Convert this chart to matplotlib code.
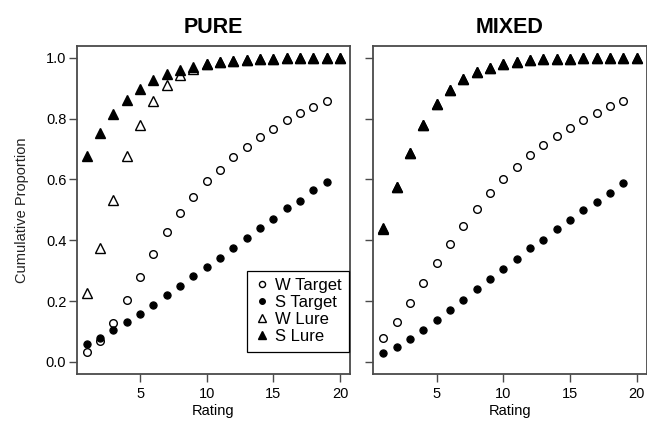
import matplotlib.pyplot as plt
import numpy as np

plt.rcParams['font.family'] = ['Liberation Sans', 'DejaVu Sans']

# ratings: targets go 1-19, lures 1-20
rating_t = np.arange(1, 20)
rating_l = np.arange(1, 21)

# PURE condition
pure_w_target = [0.032, 0.069, 0.129, 0.202, 0.279, 0.356, 0.427, 0.490, 0.542, 0.594,
                 0.632, 0.674, 0.707, 0.740, 0.767, 0.795, 0.819, 0.839, 0.857]
pure_s_target = [0.059, 0.080, 0.105, 0.131, 0.159, 0.188, 0.220, 0.248, 0.281, 0.311,
                 0.343, 0.376, 0.406, 0.441, 0.469, 0.505, 0.528, 0.564, 0.590]
pure_w_lure = [0.226, 0.376, 0.533, 0.676, 0.780, 0.859, 0.910, 0.945, 0.964, 0.980,
               0.988, 0.991, 0.994, 0.996, 0.997, 0.998, 0.999, 0.999, 1.000, 1.000]
pure_s_lure = [0.676, 0.753, 0.816, 0.863, 0.899, 0.926, 0.948, 0.961, 0.970, 0.981,
               0.988, 0.991, 0.994, 0.996, 0.997, 0.998, 0.999, 0.999, 1.000, 1.000]

# MIXED condition
mixed_w_target = [0.080, 0.131, 0.192, 0.258, 0.324, 0.388, 0.446, 0.504, 0.556, 0.602,
                  0.641, 0.680, 0.712, 0.744, 0.769, 0.797, 0.820, 0.840, 0.859]
mixed_s_target = [0.029, 0.050, 0.076, 0.105, 0.138, 0.171, 0.205, 0.238, 0.272, 0.306,
                  0.339, 0.373, 0.402, 0.437, 0.465, 0.500, 0.526, 0.557, 0.588]
mixed_w_lure = [0.436, 0.574, 0.687, 0.778, 0.849, 0.895, 0.930, 0.953, 0.968, 0.981,
                0.988, 0.993, 0.995, 0.996, 0.997, 0.998, 0.999, 0.999, 1.000, 1.000]
mixed_s_lure = [0.440, 0.574, 0.687, 0.778, 0.849, 0.895, 0.930, 0.953, 0.968, 0.981,
                0.988, 0.993, 0.995, 0.996, 0.997, 0.998, 0.999, 0.999, 1.000, 1.000]

panels = [
    ("PURE", pure_w_target, pure_s_target, pure_w_lure, pure_s_lure),
    ("MIXED", mixed_w_target, mixed_s_target, mixed_w_lure, mixed_s_lure),
]

frame_col = '#4a4a4a'

fig = plt.figure(figsize=(6.47, 4.29), dpi=100)
ax_left = fig.add_axes([76.7 / 647, 1 - 374 / 429, 273.5 / 647, 328.3 / 429])
ax_right = fig.add_axes([373.3 / 647, 1 - 374 / 429, 273.5 / 647, 328.3 / 429])

for ax, (title, wt, st, wl, sl) in zip([ax_left, ax_right], panels):
    ax.plot(rating_t, wt, 'o', ms=5.5, mfc='white', mec='black', mew=1.0, label='W Target')
    ax.plot(rating_t, st, 'o', ms=5.2, mfc='black', mec='black', mew=0.8, label='S Target')
    ax.plot(rating_l, wl, '^', ms=6.8, mfc='white', mec='black', mew=1.0, label='W Lure')
    ax.plot(rating_l, sl, '^', ms=6.8, mfc='black', mec='black', mew=1.0, label='S Lure')

    ax.set_xlim(0.24, 20.76)
    ax.set_ylim(-0.04, 1.04)
    ax.set_xticks([5, 10, 15, 20])
    ax.set_yticks([0.0, 0.2, 0.4, 0.6, 0.8, 1.0])
    ax.tick_params(direction='out', length=5.5, width=1.0, color=frame_col,
                   labelsize=10.5, pad=2)
    ax.tick_params(axis='x', pad=4)
    for sp in ax.spines.values():
        sp.set_color(frame_col)
        sp.set_linewidth(1.3)
    ax.set_title(title, fontsize=15.5, fontweight='bold', pad=9.5)
    ax.set_xlabel('Rating', fontsize=10.5, labelpad=2)

ax_left.set_yticklabels(['0.0', '0.2', '0.4', '0.6', '0.8', '1.0'])
ax_right.set_yticklabels([])
ax_left.set_ylabel('Cumulative Proportion', fontsize=10.5, labelpad=12, color='#222222')

leg = ax_left.legend(loc='lower right', bbox_to_anchor=(0.995, 0.068), borderaxespad=0,
                     fontsize=12, markerscale=0.8, handlelength=0.9, handletextpad=0.3,
                     labelspacing=0.12, borderpad=0.45, fancybox=False, framealpha=1)
leg.get_frame().set_edgecolor('black')
leg.get_frame().set_linewidth(0.9)

plt.savefig('out.png', dpi=100)
